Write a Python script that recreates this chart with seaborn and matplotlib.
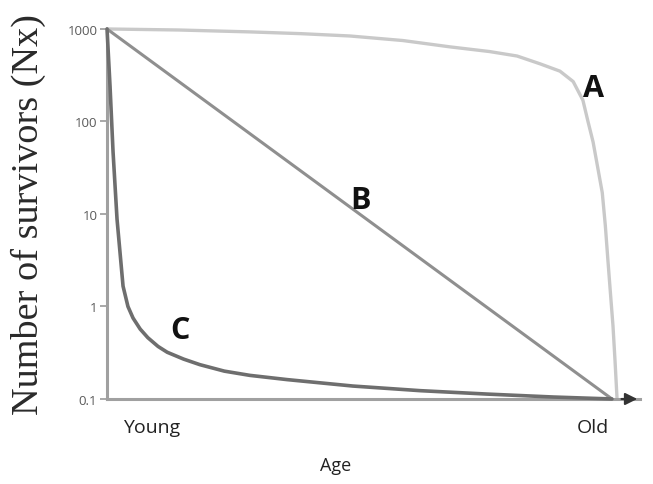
import numpy as np
import pandas as pd
import seaborn as sns
import matplotlib
matplotlib.use("Agg")
import matplotlib.pyplot as plt

# ---- data ----
a_age = [0.0, 0.14, 0.28, 0.38, 0.476, 0.58, 0.673, 0.75, 0.804, 0.849, 0.888, 0.914,
         0.933, 0.943, 0.953, 0.962, 0.971, 0.977, 0.982, 0.987, 0.992, 0.996, 1.0]
a_surv = [1000, 975, 930, 890, 840, 750, 640, 570, 510, 420, 350, 270,
          170, 100, 60, 32, 17, 7.5, 3.2, 1.4, 0.62, 0.26, 0.1]

b_age = [0.0, 0.99]
b_surv = [1000, 0.1]

c_age = [0.0, 0.0059, 0.0118, 0.0196, 0.0314, 0.041, 0.051, 0.065, 0.08, 0.1, 0.118,
         0.15, 0.182, 0.23, 0.28, 0.353, 0.482, 0.614, 0.745, 0.875, 0.99]
c_surv = [1000, 240, 47, 8.8, 1.66, 1.0, 0.75, 0.57, 0.46, 0.37, 0.32,
          0.27, 0.235, 0.2, 0.18, 0.162, 0.138, 0.123, 0.113, 0.105, 0.1]

y_ticks = [0.1, 1, 10, 100, 1000]
y_tick_labels = ["0.1", "1", "10", "100", "1000"]
x_tick_pos = [0.088, 0.953]
x_tick_labels = ["Young", "Old"]
curve_labels = ["A", "B", "C"]
label_pos = [(0.953, 230), (0.497, 14), (0.143, 0.55)]

sns.set_style("white")
plt.rcParams["font.family"] = ["Open Sans", "DejaVu Sans"]

fig = plt.figure(figsize=(6.53, 4.85), dpi=100)
ax = fig.add_axes([0.1639, 0.1753, 0.8162, 0.7629])

dfa = pd.DataFrame({"age": a_age, "surv": a_surv})
dfb = pd.DataFrame({"age": b_age, "surv": b_surv})
dfc = pd.DataFrame({"age": c_age, "surv": c_surv})

sns.lineplot(data=dfa, x="age", y="surv", ax=ax, color="#c9c9c9", lw=2.4,
             sort=False, estimator=None, clip_on=False)
sns.lineplot(data=dfb, x="age", y="surv", ax=ax, color="#8f8f8f", lw=2.2,
             sort=False, estimator=None, clip_on=False)
sns.lineplot(data=dfc, x="age", y="surv", ax=ax, color="#6e6e6e", lw=2.6,
             sort=False, estimator=None, clip_on=False, zorder=4)

ax.set_yscale("log")
ax.set_ylim(0.1, 1000)
ax.set_xlim(0, 1.045)
ax.set_yticks(y_ticks)
ax.set_yticklabels(y_tick_labels)
ax.yaxis.set_minor_locator(matplotlib.ticker.NullLocator())
ax.set_xticks(x_tick_pos)
ax.set_xticklabels(x_tick_labels)

ax.tick_params(axis="y", length=5, width=1.2, color="#9a9a9a", labelsize=9.5,
               labelcolor="#5a5a5a", pad=2, direction="out", left=True)
ax.tick_params(axis="x", length=0, labelsize=14, labelcolor="#222222", pad=14)

for s in ["top", "right"]:
    ax.spines[s].set_visible(False)
ax.spines["left"].set_color("#a0a0a0")
ax.spines["left"].set_linewidth(2.2)
ax.spines["bottom"].set_color("#a0a0a0")
ax.spines["bottom"].set_linewidth(2.2)

# arrow head on the x axis
ax.annotate("", xy=(1.0, 0.0), xycoords="axes fraction",
            xytext=(0.96, 0.0), textcoords="axes fraction",
            arrowprops=dict(arrowstyle="-|>", color="#333333", lw=1.5,
                            mutation_scale=18), annotation_clip=False)

ax.set_xlabel("Age", fontsize=13, color="#222222", labelpad=14, x=0.428)
ax.set_ylabel("Number of survivors (Nx)", fontsize=27.5, color="#2a2a2a",
              family=["Liberation Serif", "DejaVu Serif"])
ax.yaxis.set_label_coords(-0.115, 0.50)

for lab, (xx, yy) in zip(curve_labels, label_pos):
    ax.text(xx, yy, lab, fontsize=22, fontweight="bold", color="#111111",
            ha="center", va="center")

ax.set_facecolor("white")
fig.patch.set_facecolor("white")
fig.savefig("out.png", dpi=100)
